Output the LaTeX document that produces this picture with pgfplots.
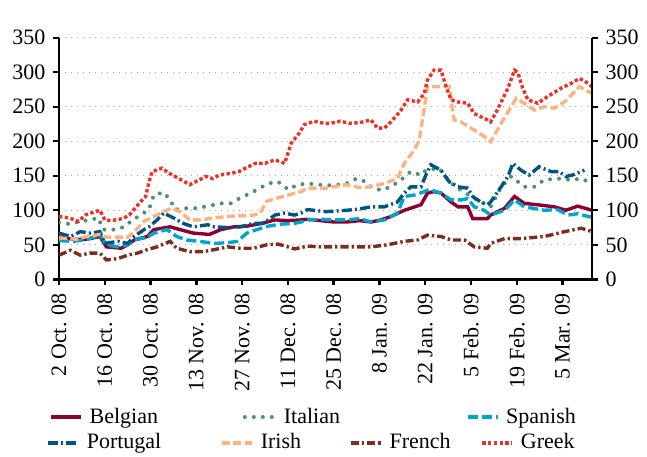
\documentclass[border=0pt]{standalone}
\usepackage{fontspec}
\setmainfont{Liberation Serif}
\usepackage{pgfplots}
\pgfplotsset{compat=1.18}
\definecolor{cBel}{RGB}{140,0,50}
\definecolor{cIta}{RGB}{75,145,115}
\definecolor{cSpa}{RGB}{0,165,205}
\definecolor{cPor}{RGB}{0,85,130}
\definecolor{cIri}{RGB}{250,180,130}
\definecolor{cFre}{RGB}{125,45,30}
\definecolor{cGre}{RGB}{235,50,40}
\tikzset{
  sBel/.style={color=cBel, line width=1.7pt, solid},
  sIta/.style={color=cIta, line width=2pt, line cap=round, dash pattern=on 0pt off 4.5pt},
  sSpa/.style={color=cSpa, line width=1.7pt, dash pattern=on 5pt off 2pt},
  sPor/.style={color=cPor, line width=1.7pt, dash pattern=on 5pt off 1.6pt on 1pt off 1.6pt},
  sIri/.style={color=cIri, line width=1.7pt, dash pattern=on 4pt off 1.7pt},
  sFre/.style={color=cFre, line width=1.7pt, dash pattern=on 4pt off 1.5pt on 1.2pt off 1.5pt},
  sGre/.style={color=cGre, line width=1.7pt, dash pattern=on 1.7pt off 1.2pt},
}
\pgfplotsset{
  myaxis/.style={
    width=266.5pt, height=120.8pt, scale only axis,
    xmin=0, xmax=163, ymin=0, ymax=350,
    ytick={0,50,...,350},
    tick align=outside, major tick length=3pt,
    axis line style={line width=1.2pt, black},
    tick style={line width=1.2pt, black},
    /pgf/number format/assume math mode=true,
    no marks,
    legend cell align=left,
    legend image code/.code={\draw[##1] (0pt,0pt) -- (15pt,0pt);},
  },
}
\begin{document}
\fontsize{11}{13}\selectfont
\begin{tikzpicture}
\begin{axis}[myaxis, name=main,
  axis x line*=bottom, axis y line*=left,
  xtick={0,14,...,154},
  xticklabels={2 Oct. 08,16 Oct. 08,30 Oct. 08,13 Nov. 08,27 Nov. 08,11 Dec. 08,25 Dec. 08,8 Jan. 09,22 Jan. 09,5 Feb. 09,19 Feb. 09,5 Mar. 09},
  xticklabel style={rotate=90, anchor=east},
  ymajorgrids, grid style={gray!70, line width=0.6pt, dash pattern=on 0.6pt off 2.4pt},
  legend style={at={(-0.0191,-0.570)}, anchor=west, draw=none, fill=none, inner sep=0pt,
    column sep=0pt, /tikz/every odd column/.append style={column sep=3.5pt},
    nodes={inner sep=0pt, anchor=west}},
  legend columns=3,
]
\addplot[sBel] coordinates {(0,61)(4.5,58)(8.5,58)(12.5,62)(14.5,47)(19,45)(21,50)(23,57)(27,62)(29,72)(34,76)(37,72)(41,67)(46,65)(49.5,72)(53.5,76)(57.5,77)(62,81)(66,86)(70,85)(74,86)(76,87)(80,85)(84,83)(88,83)(92,85)(95.4,83)(98.4,86)(101.5,91)(105.6,100)(110.7,108)(112.7,125)(114.7,127)(116.8,125)(119.9,112)(122,105)(125,105)(126.5,88)(131,88)(132,93)(136.3,103)(139.3,120)(142.3,110)(146.4,108)(151.5,105)(155,100)(158.6,106)(163,100)};
\addlegendentry{\makebox[76.6pt][l]{Belgian}}
\addplot[sIta] coordinates {(0,82)(3.5,80)(6.5,84)(9.5,86)(12,89)(13.5,72)(17,72)(20,76)(22.5,86)(25,93)(27.5,101)(29,122)(32,126)(34,115)(35.5,101)(39,103)(42,103)(45.5,106)(49.5,110)(52.5,110)(55.5,118)(59.5,127)(62.5,135)(66,142)(68,139)(70,130)(73,137)(76,139)(79,137)(84,136)(88,139)(91,146)(94,141)(95.4,134)(98.4,129)(101.5,134)(104.6,144)(107.6,156)(110.7,151)(112.2,158)(116.3,161)(119.4,141)(122,132)(126,120)(129,112)(132,105)(135.2,134)(138.3,149)(142.3,134)(145.4,134)(148.4,144)(152.5,146)(156.7,144)(159.7,146)(163,139)};
\addlegendentry{\makebox[91pt][l]{Italian}}
\addplot[sSpa] coordinates {(0,56)(4.5,55)(8.5,58)(12.5,64)(14.5,50)(18,47)(21,50)(23,57)(27,61)(29,67)(33,72)(36,62)(39,57)(43,55)(47.5,52)(51.5,53)(54.5,55)(57.5,67)(60.5,72)(64,77)(68,80)(72,81)(74,83)(76,86)(80,87)(84,86)(88,86)(92,88)(95.4,83)(99.5,86)(103.5,96)(105.6,120)(108.6,122)(111.7,127)(113.2,130)(116.8,125)(119.9,115)(123,115)(125,117)(127,105)(130,100)(132,93)(136.3,100)(139.3,115)(142.3,105)(148.4,100)(152.5,101)(155.6,93)(158.6,95)(161.8,91)(163,90)};
\addlegendentry{Spanish}
\addplot[sPor, forget plot] coordinates {(0,67)(3.5,62)(6.5,69)(9.5,67)(12.5,69)(14,52)(18,55)(21,52)(23,62)(26,72)(27.5,76)(30,86)(32,96)(35,89)(38,81)(41,76)(45.5,79)(47.5,76)(51.5,75)(55.5,76)(59.5,81)(62.5,81)(66,93)(69,96)(72,93)(74,96)(76,101)(81.6,98)(88,100)(92,102)(95.4,105)(99.5,105)(103.5,112)(105.6,125)(107.6,134)(110.7,134)(112.2,151)(113.7,166)(116.8,158)(119.4,141)(122,134)(125,132)(126.5,120)(129,112)(131,108)(132,112)(135.2,134)(137.3,149)(138.8,168)(141.3,158)(143.8,151)(146.8,163)(150.5,156)(153,156)(155,149)(157,151)(160.7,158)};
\addplot[sIri, forget plot] coordinates {(0,60)(5.5,58)(8.5,62)(12.5,65)(14.5,61)(19,61)(21,61)(23,69)(26,84)(29,91)(32,98)(34.5,103)(37,98)(40,86)(43,86)(47.5,89)(51.5,91)(55.5,92)(59.5,93)(61.5,96)(63.5,113)(67,118)(70,122)(74,127)(76,132)(81.6,132)(87.7,137)(92,133)(95.4,134)(99.5,139)(103.5,146)(105.6,168)(108.6,187)(110.2,202)(111.7,248)(112.7,279)(119.4,279)(120.8,231)(122.9,228)(127,216)(131,204)(132,199)(135.2,226)(138.3,250)(139.8,262)(142.3,255)(145.4,245)(148.4,250)(151.5,248)(154.6,257)(159.2,279)(161.8,272)(163,270)};
\addplot[sFre, forget plot] coordinates {(0,35)(3.5,42)(6.5,35)(9.5,38)(12.5,38)(14.5,28)(18,30)(21,35)(24,38)(27,43)(30,47)(34,55)(36,45)(40,40)(44,40)(47.5,43)(51.5,47)(55.5,45)(59.5,45)(63.5,50)(67,51)(70,47)(72,44)(76,48)(80,47)(84,47)(90,47)(95.4,47)(100.5,50)(105.6,55)(109.7,57)(112.7,64)(116.8,62)(119.9,57)(124,57)(127,47)(131,45)(132,52)(136.3,59)(141.3,59)(148.4,62)(154.6,69)(159.7,74)(163,69)};
\addplot[sGre, forget plot] coordinates {(0,91)(3,89)(6,84)(8,93)(11,98)(12.5,100)(14,86)(16,85)(19.5,88)(21.5,93)(24.5,110)(26.5,120)(27.5,141)(28.5,156)(31.5,161)(33.5,154)(35.5,149)(40,137)(42,142)(45,149)(47,146)(49,151)(53,154)(55,156)(57,161)(60,168)(63,168)(66,173)(69,168)(71,197)(73.5,212)(75,224)(78,229)(81,226)(83,226)(86,229)(89,226)(92,227)(95.4,231)(97.4,219)(99.5,219)(101.5,228)(104.6,245)(106.6,260)(109.7,257)(111.7,269)(112.7,289)(114.7,303)(116.8,303)(118.4,279)(119.9,260)(121.9,257)(125,255)(127,240)(131,231)(132,228)(134,245)(137.3,277)(139.3,303)(140.3,300)(141.8,277)(143.4,260)(146.4,255)(149.5,265)(153.6,277)(156.7,284)(159.2,291)(161.8,284)(163,279)};
\node[anchor=base west, inner sep=0pt, yshift=5.8pt] at (rel axis cs:0,1) {Basispoint};
\node[anchor=base east, inner sep=0pt, yshift=5.8pt, xshift=-1.5pt] at (rel axis cs:1,1) {Basispoint};
\end{axis}
\begin{axis}[myaxis,
  axis x line=none, axis y line*=right,
  legend style={at={(-0.0244,-0.6776)}, anchor=west, draw=none, fill=none, inner sep=0pt,
    column sep=0pt, /tikz/every odd column/.append style={column sep=3.5pt},
    nodes={inner sep=0pt, anchor=west}},
  legend columns=4,
]
\addlegendimage{sPor}
\addlegendentry{\makebox[66.8pt][l]{Portugal}}
\addlegendimage{sIri}
\addlegendentry{\makebox[44.2pt][l]{Irish}}
\addlegendimage{sFre}
\addlegendentry{\makebox[45.5pt][l]{French}}
\addlegendimage{sGre}
\addlegendentry{Greek}
\end{axis}
\pgfresetboundingbox
\path[use as bounding box] ([xshift=-29.5pt,yshift=-88.35pt]main.south west) rectangle ([xshift=27.5pt,yshift=18.85pt]main.north east);
\end{tikzpicture}
\end{document}
